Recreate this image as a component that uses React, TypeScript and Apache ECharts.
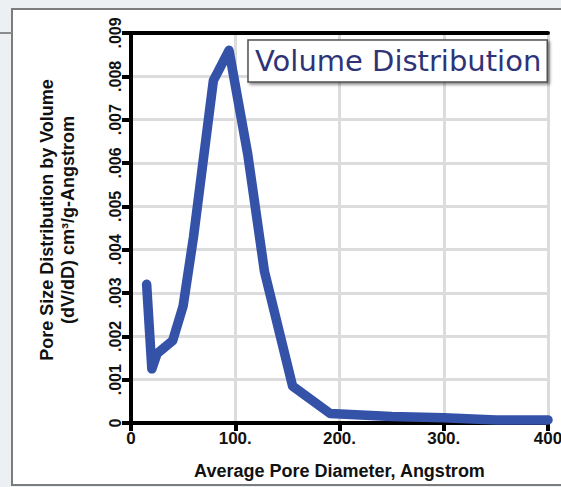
import React, { useEffect, useRef } from "react";
import * as echarts from "echarts";

// Average pore diameter (Angstrom) and dV/dD (cm³/g-Angstrom)
const poreDiameter = [15, 20, 25, 40, 50, 60, 79, 94, 112, 128, 155, 191, 250, 300, 350, 400];
const volumeDist = [
  0.0032, 0.00125, 0.0016, 0.0019, 0.0027, 0.0043, 0.0079, 0.0086, 0.0062, 0.0035,
  0.00085, 0.00022, 0.00015, 0.00012, 0.00007, 0.00007,
];

const seriesName = "Volume Distribution";
const xTitle = "Average Pore Diameter, Angstrom";
const yTitleLines = ["Pore Size Distribution by Volume", "(dV/dD) cm³/g-Angstrom"];

const xMax = 400;
const labelFont = '"Liberation Sans", Arial, sans-serif';

export default function App() {
  const ref = useRef<HTMLDivElement>(null);

  useEffect(() => {
    if (!ref.current) return;
    const chart = echarts.init(ref.current, null, { renderer: "svg" });

    const fmtY = (v: number) => {
      const k = Math.round(v * 1000);
      return k === 0 ? "0" : "." + String(k).padStart(3, "0");
    };
    // the last tick sits on the right edge, so it goes without the trailing dot
    const fmtX = (v: number) =>
      v === 0 ? "0" : v >= xMax ? `${Math.round(v)}` : `${Math.round(v)}.`;

    chart.setOption({
      animation: false,
      backgroundColor: "#edf0f2",
      graphic: [
        {
          type: "rect",
          z: -10,
          shape: { x: 12, y: 9, width: 560, height: 476 },
          style: { fill: "#ffffff", stroke: "#7c7c7c", lineWidth: 2 },
        },
        {
          type: "line",
          z: -10,
          shape: { x1: 0, y1: 33, x2: 12, y2: 33 },
          style: { stroke: "#8a8a8a", lineWidth: 2 },
        },
      ],
      grid: {
        left: 131,
        top: 33,
        right: 13,
        bottom: 64,
        containLabel: false,
        outerBoundsMode: "none",
      },
      legend: {
        data: [seriesName],
        left: 248,
        top: 40,
        icon: "none",
        itemWidth: 0,
        itemHeight: 0,
        padding: [4, 6, 4, 2],
        backgroundColor: "#ffffff",
        borderColor: "#505050",
        borderWidth: 1.5,
        borderRadius: 0,
        shadowColor: "rgba(0,0,0,0.45)",
        shadowBlur: 3,
        shadowOffsetX: 2,
        shadowOffsetY: 2,
        textStyle: {
          fontFamily: '"DejaVu Sans", sans-serif',
          fontSize: 29,
          color: "#2e3378",
          lineHeight: 34,
        },
        selectedMode: false,
      },
      xAxis: [
        {
          type: "value",
          min: 0,
          max: xMax,
          interval: 100,
          name: xTitle,
          nameLocation: "middle",
          nameGap: 39,
          nameTextStyle: {
            fontFamily: labelFont,
            fontWeight: "bold",
            fontSize: 18,
            color: "#111",
          },
          axisLine: { lineStyle: { color: "#000", width: 4 } },
          axisTick: { length: 8, lineStyle: { color: "#000", width: 4 } },
          axisLabel: {
            formatter: fmtX,
            margin: 7,
            fontFamily: labelFont,
            fontWeight: "bold",
            fontSize: 17,
            color: "#111",
          },
          splitLine: { lineStyle: { color: "#dcdcdc", width: 3 } },
        },
        {
          type: "value",
          position: "top",
          min: 0,
          max: xMax,
          interval: 100,
          axisLine: { show: true, lineStyle: { color: "#000", width: 4 } },
          axisTick: { show: false },
          axisLabel: { show: false },
          splitLine: { show: false },
        },
      ],
      yAxis: {
        type: "value",
        min: 0,
        max: 0.009,
        interval: 0.001,
        name: yTitleLines.join("\n"),
        nameLocation: "middle",
        nameRotate: 90,
        nameGap: 53,
        nameTextStyle: {
          fontFamily: labelFont,
          fontWeight: "bold",
          fontSize: 18,
          lineHeight: 21,
          color: "#111",
          padding: [0, 0, 0, 16],
        },
        axisLine: { show: true, lineStyle: { color: "#000", width: 4 } },
        axisTick: { show: true, length: 9, lineStyle: { color: "#000", width: 4 } },
        axisLabel: {
          formatter: fmtY,
          rotate: 90,
          margin: 8,
          fontFamily: labelFont,
          fontWeight: "bold",
          fontSize: 16,
          color: "#111",
        },
        splitLine: { lineStyle: { color: "#dcdcdc", width: 3 } },
      },
      series: [
        {
          name: seriesName,
          type: "line",
          xAxisIndex: 0,
          data: poreDiameter.map((d, i) => [d, volumeDist[i]]),
          showSymbol: false,
          symbol: "none",
          clip: false,
          color: "#3452a8",
          lineStyle: { color: "#3452a8", width: 9.5, join: "round", cap: "round" },
        },
      ],
    });

    return () => chart.dispose();
  }, []);

  return (
    <div
      ref={ref}
      style={{ position: "absolute", left: 0, top: 0, width: 561, height: 487 }}
    />
  );
}
